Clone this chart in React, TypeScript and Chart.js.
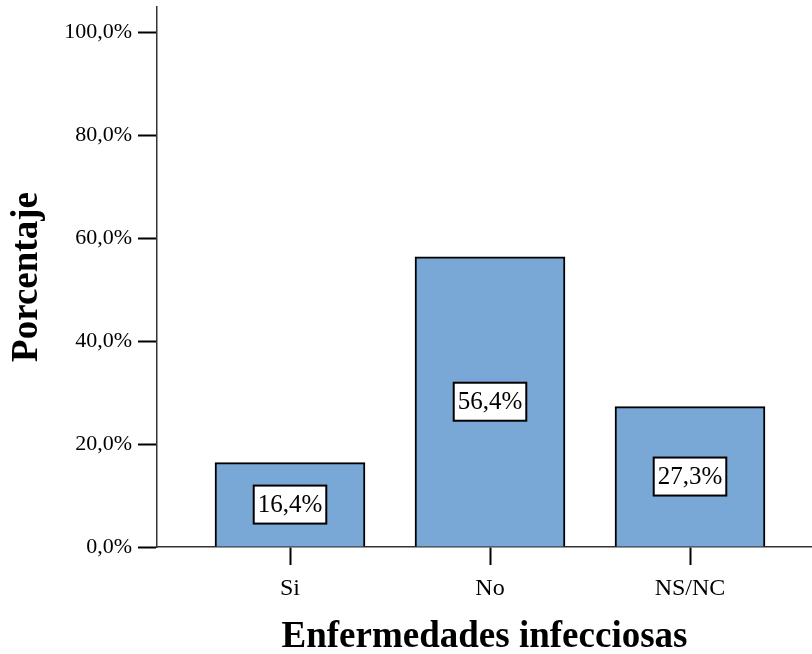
import React, { useEffect, useRef } from "react";
import { Chart, registerables } from "chart.js";

Chart.register(...registerables);

const categories = ["Si", "No", "NS/NC"];
const percentages = [16.4, 56.4, 27.3];
const yTicks = [0, 20, 40, 60, 80, 100];
const xTitle = "Enfermedades infecciosas";
const yTitle = "Porcentaje";

const SERIF = "'Liberation Serif', 'Times New Roman', serif";
const fmt = (v: number) => v.toFixed(1).replace(".", ",") + "%";

const labelBoxes = {
  id: "labelBoxes",
  afterDatasetsDraw(chart: any) {
    const ctx = chart.ctx;
    const meta = chart.getDatasetMeta(0);
    ctx.save();
    ctx.font = `25px ${SERIF}`;
    ctx.textAlign = "center";
    ctx.textBaseline = "middle";
    meta.data.forEach((el: any, i: number) => {
      const text = fmt(percentages[i]);
      const cx = el.x;
      const cy = (el.y + el.base) / 2;
      const w = ctx.measureText(text).width + 8;
      const h = 38;
      ctx.fillStyle = "#ffffff";
      ctx.fillRect(cx - w / 2, cy - h / 2, w, h);
      ctx.lineWidth = 2;
      ctx.strokeStyle = "#000000";
      ctx.strokeRect(cx - w / 2, cy - h / 2, w, h);
      ctx.fillStyle = "#000000";
      ctx.fillText(text, cx, cy + 1);
    });
    ctx.restore();
  },
};

export default function App() {
  const ref = useRef<HTMLCanvasElement>(null);
  useEffect(() => {
    if (!ref.current) return;
    const chart = new Chart(ref.current, {
      type: "bar",
      data: {
        datasets: [
          {
            data: percentages.map((v, i) => ({ x: i, y: v })),
            backgroundColor: "#7aa8d6",
            borderColor: "#000000",
            borderWidth: 2,
            barThickness: 150,
          },
        ],
      },
      options: {
        responsive: false,
        animation: false,
        layout: { padding: { top: 7, right: 0, left: 0, bottom: 0 } },
        plugins: { legend: { display: false }, tooltip: { enabled: false } },
        scales: {
          x: {
            type: "linear",
            offset: false,
            min: -0.665,
            max: 2.61,
            afterBuildTicks: (scale: any) => {
              scale.ticks = categories.map((_, i) => ({ value: i }));
            },
            afterFit: (scale: any) => {
              scale.height = 107;
              scale.paddingLeft = 0;
              scale.paddingRight = 0;
            },
            ticks: {
              autoSkip: false,
              maxRotation: 0,
              padding: 9,
              color: "#000000",
              font: { family: SERIF, size: 24 },
              callback: (v: any) => categories[Number(v)] ?? "",
            },
            grid: {
              offset: false,
              drawOnChartArea: false,
              drawTicks: true,
              tickLength: 18,
              tickWidth: 2,
              tickColor: "#000000",
            },
            border: { display: true, color: "#333333", width: 1.5 },
            title: {
              display: true,
              text: xTitle,
              color: "#000000",
              font: { family: SERIF, size: 37, weight: "bold", lineHeight: 0.9 },
              padding: { top: 0, bottom: 0 },
            },
          },
          y: {
            min: 0,
            max: 105,
            afterBuildTicks: (scale: any) => {
              scale.ticks = yTicks.map((v) => ({ value: v }));
            },
            afterFit: (scale: any) => {
              scale.width = 157;
              scale.paddingTop = 0;
              scale.paddingBottom = 0;
            },
            ticks: {
              padding: 6,
              color: "#000000",
              font: { family: SERIF, size: 22 },
              callback: (v: any) => fmt(Number(v)),
            },
            grid: {
              drawOnChartArea: false,
              drawTicks: true,
              tickLength: 19,
              tickWidth: 2,
              tickColor: "#000000",
            },
            border: { display: true, color: "#333333", width: 1.5 },
            title: {
              display: true,
              text: yTitle,
              color: "#000000",
              font: { family: SERIF, size: 37, weight: "bold" },
              padding: { top: 5, bottom: 0 },
            },
          },
        },
      },
      plugins: [labelBoxes],
    });
    return () => chart.destroy();
  }, []);
  return (
    <canvas
      ref={ref}
      width={812}
      height={654}
      style={{ position: "absolute", left: 0, top: 0, width: 812, height: 654 }}
    />
  );
}
